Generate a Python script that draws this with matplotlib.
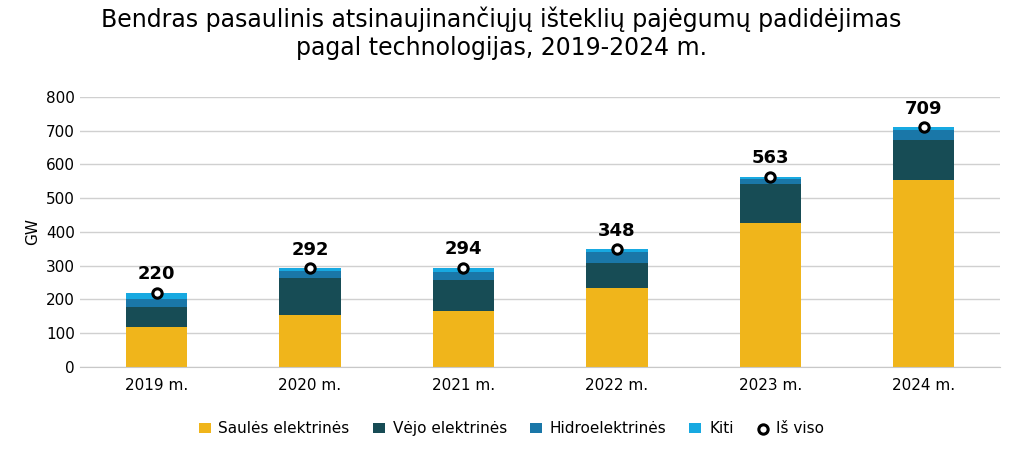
import matplotlib
matplotlib.use("Agg")
import matplotlib.pyplot as plt
import numpy as np

years = ["2019 m.", "2020 m.", "2021 m.", "2022 m.", "2023 m.", "2024 m."]
solar = [119, 152, 164, 232, 425, 553]
wind = [59, 110, 92, 74, 116, 119]
hydro = [24, 21, 24, 33, 15, 30]
total = [220, 292, 294, 348, 563, 709]
other = [t - s - w - h for t, s, w, h in zip(total, solar, wind, hydro)]

fig = plt.figure(figsize=(10.23, 4.5), dpi=100)
ax = fig.add_axes([0.078, 0.185, 0.9, 0.6])
x = np.arange(len(years))
bw = 0.4
b1 = ax.bar(x, solar, bw, color="#F0B51B", label="Saulės elektrinės")
b2 = ax.bar(x, wind, bw, bottom=solar, color="#174C55", label="Vėjo elektrinės")
bot = np.array(solar) + np.array(wind)
b3 = ax.bar(x, hydro, bw, bottom=bot, color="#1A77A8", label="Hidroelektrinės")
bot = bot + np.array(hydro)
b4 = ax.bar(x, other, bw, bottom=bot, color="#17A9E1", label="Kiti")
p = ax.scatter(x, total, s=45, facecolor="white", edgecolor="black", linewidth=2.2, zorder=5, label="Iš viso")
for xi, t in zip(x, total):
    ax.text(xi, t + 28, str(t), ha="center", va="bottom", fontsize=13, fontweight="bold")

ax.set_ylim(0, 800)
ax.set_xlim(-0.5, 5.5)
ax.set_yticks(range(0, 801, 100))
ax.set_xticks(x)
ax.set_xticklabels(years)
ax.tick_params(axis="both", length=0, labelsize=11)
ax.tick_params(axis="x", pad=8)
ax.grid(axis="y", color="#D0D0D0", linewidth=1)
ax.set_axisbelow(True)
for s in ["top", "right", "left"]:
    ax.spines[s].set_visible(False)
ax.spines["bottom"].set_color("#C8C8C8")
ax.set_ylabel("GW", fontsize=11)
fig.suptitle("Bendras pasaulinis atsinaujinančiųjų išteklių pajėgumų padidėjimas\npagal technologijas, 2019-2024 m.",
             fontsize=17, x=0.49, y=0.985)
fig.legend(handles=[b1, b2, b3, b4, p], loc="lower center", bbox_to_anchor=(0.5, 0.0),
           ncol=5, frameon=False, fontsize=11, handlelength=0.8, columnspacing=1.5, handletextpad=0.5)
fig.savefig("out.png")
